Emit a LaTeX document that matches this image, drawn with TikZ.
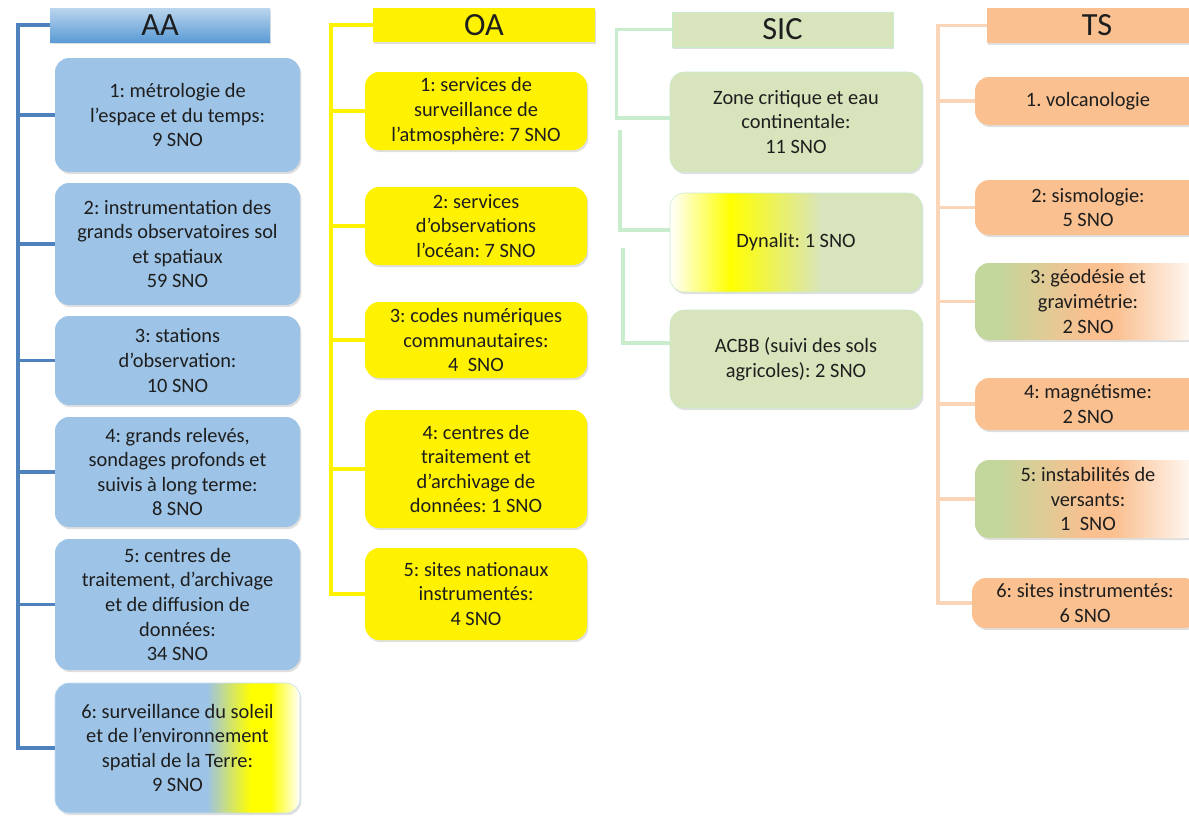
\documentclass[tikz,border=0pt]{standalone}
\usepackage{fontspec}
\setmainfont{Carlito}
\usetikzlibrary{shadows}
\definecolor{aablue}{RGB}{157,195,230}
\definecolor{aadark}{RGB}{91,155,213}
\definecolor{aaline}{RGB}{79,129,189}
\definecolor{sicgreen}{RGB}{216,228,188}
\definecolor{sicline}{RGB}{200,236,204}
\definecolor{tspeach}{RGB}{250,192,144}
\definecolor{tsline}{RGB}{251,213,184}
\definecolor{tsgreen}{RGB}{195,214,155}
\definecolor{txt}{RGB}{30,30,30}
\pgfdeclarehorizontalshading{aamix}{100bp}{color(0bp)=(aablue); color(56bp)=(aablue); color(65bp)=(yellow); color(69bp)=(yellow); color(75bp)=(white); color(100bp)=(white)}
\pgfdeclarehorizontalshading{sicmix}{100bp}{color(0bp)=(white); color(25bp)=(white); color(37bp)=(yellow); color(55bp)=(sicgreen); color(100bp)=(sicgreen)}
\pgfdeclarehorizontalshading{tsmix}{100bp}{color(0bp)=(tsgreen); color(30bp)=(tsgreen); color(50bp)=(tspeach); color(56bp)=(tspeach); color(75bp)=(white); color(100bp)=(white)}
\frenchspacing

\begin{document}
\begin{tikzpicture}[x=0.025cm, y=-0.025cm,
  every node/.style={font=\fontsize{14.5}{17.5}\selectfont, text=txt, align=center, inner sep=0pt},
  head/.style 2 args={minimum width=#1*0.025cm, minimum height=#2*0.025cm,
    font=\fontsize{23}{26}\selectfont, drop shadow={shadow xshift=1pt, shadow yshift=-1.5pt, opacity=.25}},
  cell/.style 2 args={rounded corners=10pt, minimum width=#1*0.025cm, minimum height=#2*0.025cm,
    drop shadow={shadow xshift=1pt, shadow yshift=-1.5pt, opacity=.25}},
  aalink/.style={draw=aaline, line width=2.4pt},
  oalink/.style={draw=yellow, line width=2.4pt},
  siclink/.style={draw=sicline, line width=2.4pt},
  tslink/.style={draw=tsline, line width=2.4pt}]
\useasboundingbox (0,0) rectangle (1189,815);
\clip (0,0) rectangle (1189,815);

\node[head={220}{34}, top color=aablue!70!white, bottom color=aadark] at (160,25) (aa0) {AA};
\node[cell={245}{114}, fill=aablue] at (177.5,115) (aa1) {1: métrologie de\\l’espace et du temps:\\9 SNO};
\node[cell={245}{122}, fill=aablue] at (177.5,244) (aa2) {2: instrumentation des\\grands observatoires sol\\et spatiaux\\59 SNO};
\node[cell={245}{89}, fill=aablue] at (177.5,360.5) (aa3) {3: stations\\d’observation:\\10 SNO};
\node[cell={245}{110}, fill=aablue] at (177.5,472) (aa4) {4: grands relevés,\\sondages profonds et\\suivis à long terme:\\8 SNO};
\node[cell={245}{131}, fill=aablue] at (177.5,604.5) (aa5) {5: centres de\\traitement, d’archivage\\et de diffusion de\\données:\\34 SNO};
\node[cell={245}{130}, shading=aamix, draw=aablue!60, thin] at (177.5,748) (aa6) {6: surveillance du soleil\\et de l’environnement\\spatial de la Terre:\\9 SNO};

\node[head={222}{34}, fill=yellow] at (484,25) (oa0) {OA};
\node[cell={222}{78}, fill=yellow] at (476,111) (oa1) {1: services de\\surveillance de\\l’atmosphère: 7 SNO};
\node[cell={222}{78}, fill=yellow] at (476,226) (oa2) {2: services\\d’observations\\l’océan: 7 SNO};
\node[cell={222}{76}, fill=yellow] at (476,340) (oa3) {3: codes numériques\\communautaires:\\4~ SNO};
\node[cell={222}{118}, fill=yellow] at (476,469) (oa4) {4: centres de\\traitement et\\d’archivage de\\données: 1 SNO};
\node[cell={222}{92}, fill=yellow] at (476,594) (oa5) {5: sites nationaux\\instrumentés:\\4 SNO};

\node[head={221}{35}, fill=sicgreen, draw=sicline] at (782.5,29.5) (sic0) {SIC};
\node[cell={252}{100}, fill=sicgreen, draw=sicline] at (796,122) (sic1) {Zone critique et eau\\continentale:\\11 SNO};
\node[cell={252}{99}, shading=sicmix, draw=sicline] at (796,242.5) (sic2) {Dynalit: 1 SNO};
\node[cell={252}{98}, fill=sicgreen, draw=sicline] at (796,359) (sic3) {ACBB (suivi des sols\\agricoles): 2 SNO};

\node[head={220}{35}, fill=tspeach] at (1097,25.5) (ts0) {TS};
\node[cell={226}{48}, fill=tspeach] at (1088,101) (ts1) {1. volcanologie};
\node[cell={226}{55}, fill=tspeach] at (1088,207.5) (ts2) {2: sismologie:\\5 SNO};
\node[cell={226}{77}, shading=tsmix] at (1088,301.5) (ts3) {3: géodésie et\\gravimétrie:\\2 SNO};
\node[cell={226}{52}, fill=tspeach] at (1088,404) (ts4) {4: magnétisme:\\2 SNO};
\node[cell={226}{78}, shading=tsmix] at (1088,499) (ts5) {5: instabilités de\\versants:\\1~ SNO};
\node[cell={226}{50}, fill=tspeach] at (1085,603) (ts6) {6: sites instrumentés:\\6 SNO};

\coordinate (aat) at (18,0);
\coordinate (oat) at (331,0);
\coordinate (tst) at (938,0);
\coordinate (sica) at (620,130);
\coordinate (sicb) at (623,248);

\draw[aalink] (aa0.west) -- (aa0.west -| aat) |- (aa6.west);
\foreach \i in {1,...,5}
  \draw[aalink] (aa\i.west) -- (aa\i.west -| aat);
\draw[oalink] (oa0.west) -- (oa0.west -| oat) |- (oa5.west);
\foreach \i in {1,...,4}
  \draw[oalink] (oa\i.west) -- (oa\i.west -| oat);
\draw[siclink] (sic0.west) -- ++(-55,0) |- ([yshift=2.8pt]sic1.west);
\draw[siclink] (sica) |- ([yshift=8.9pt]sic2.west);
\draw[siclink] (sicb) |- ([yshift=11.3pt]sic3.west);
\draw[tslink] (ts0.west) -- (ts0.west -| tst) |- (ts6.west);
\foreach \i in {1,...,5}
  \draw[tslink] (ts\i.west) -- (ts\i.west -| tst);
\end{tikzpicture}
\end{document}
